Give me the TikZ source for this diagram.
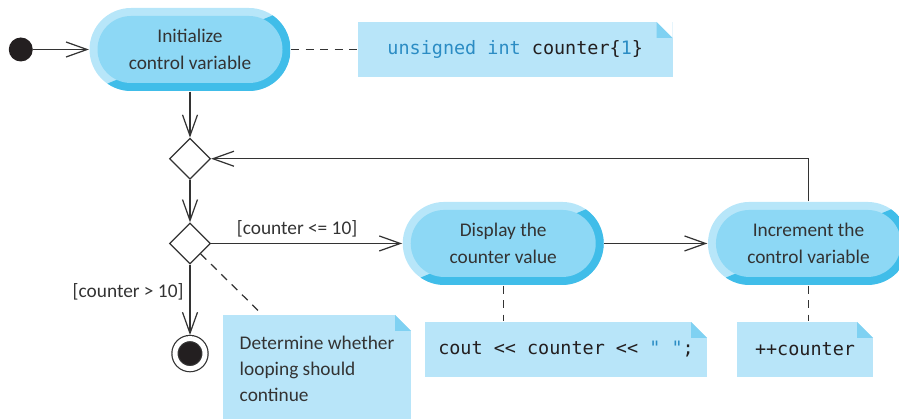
\documentclass[tikz,border=0pt]{standalone}
\usepackage{fontspec}
\setmainfont{Carlito}
\newfontfamily\codefont{DejaVu Sans Mono}
\usepackage{tikz}
\usetikzlibrary{arrows.meta, positioning, calc, shapes.geometric}

\definecolor{caplight}{HTML}{B7E6F9}
\definecolor{capmid}{HTML}{8DD8F5}
\definecolor{capdark}{HTML}{40BDE9}
\definecolor{notefill}{HTML}{B8E5F9}
\definecolor{notefold}{HTML}{7FD1F2}
\definecolor{codeblue}{HTML}{2B8CC4}
\definecolor{linegray}{HTML}{333333}
\definecolor{dotblack}{HTML}{231F20}

\begin{document}
\begin{tikzpicture}[>={Straight Barb[length=0.42cm, width=0.3cm]}, line width=0.7pt, color=linegray,
    action/.style={rectangle, rounded corners=0.83cm, minimum width=4.02cm, minimum height=1.66cm,
      fill=caplight, align=center, font=\fontsize{11}{15.5}\selectfont,
      path picture={
        \fill[capdark, sharp corners] (path picture bounding box.south west)
          -- (path picture bounding box.north east) -- (path picture bounding box.south east) -- cycle;
        \fill[capmid, rounded corners=0.67cm] ($(path picture bounding box.south west)+(0.16,0.16)$)
          rectangle ($(path picture bounding box.north east)+(-0.16,-0.16)$);
      }},
    choice/.style={diamond, draw, minimum width=0.82cm, minimum height=0.82cm, inner sep=0pt},
    dot/.style={circle, fill=dotblack, minimum size=0.48cm, inner sep=0pt},
    final/.style={circle, fill=dotblack, draw, double=white, double distance=0.1cm,
      minimum size=0.6cm, inner sep=0pt, outer sep=0.07cm},
    note/.style={rectangle, fill=notefill, minimum height=1.1cm, text=dotblack,
      font=\codefont\fontsize{10.5}{13}\selectfont,
      path picture={
        \fill[white, sharp corners] ($(path picture bounding box.north east)+(-0.32,0)$)
          -- (path picture bounding box.north east) -- ++(0,-0.32) -- cycle;
        \fill[notefold, sharp corners] ($(path picture bounding box.north east)+(-0.32,0)$)
          -- ++(0,-0.32) -- ++(0.32,0) -- cycle;
      }},
    guard/.style={font=\fontsize{11}{13}\selectfont},
    link/.style={dash pattern=on 0.16cm off 0.13cm}]
  \useasboundingbox (0,0) rectangle (17.98,-8.38);

  % Activities
  \node[action] (init) at (3.8,-0.99) {Initialize\\control variable};
  \node[dot, left=1.11cm of init] (start) {};
  \node[choice, below=0.92cm of init] (merge) {};
  \node[choice, below=0.85cm of merge] (decide) {};
  \node[final, below=1.41cm of decide] (stop) {};
  \node[action, right=3.82cm of decide] (disp) {Display the\\counter value};
  \node[action, right=2.06cm of disp] (incr) {Increment the\\control variable};

  % Notes
  \node[note, minimum width=6.3cm, right=1.32cm of init] (code1)
    {\textcolor{codeblue}{unsigned int} counter\{\textcolor{codeblue}{1}\}};
  \node[note, minimum width=3.76cm, minimum height=2.14cm, align=left, text=linegray,
        font=\fontsize{11}{14.8}\selectfont] (loopnote) at (6.34,-7.37)
    {Determine whether\\looping should\\continue};
  \node[note, minimum width=5.64cm] (code2) at (11.32,-6.99)
    {cout << counter << \textcolor{codeblue}{" "};};
  \node[note, minimum width=2.72cm] (code3) at (16.1,-6.99) {++counter};

  % Arrows
  \draw[->] (start) -- (init);
  \draw[->] (merge.north |- init.south) -- (merge);
  \draw[->] (merge) -- (decide);
  \draw[->] (decide) -- node[above, pos=0.45, guard] {[counter <= 10]} (disp);
  \draw[->] (decide) -- node[left, pos=0.38, guard] {[counter > 10]} (stop);
  \draw[->] (disp) -- (incr);
  \draw[->] (incr.north) |- (merge.east);

  % Note links
  \draw[link] (init) -- (code1);
  \draw[link] (decide) -- (loopnote);
  \draw[link] (disp) -- (disp |- code2.north);
  \draw[link] (incr) -- (incr |- code3.north);
\end{tikzpicture}
\end{document}
